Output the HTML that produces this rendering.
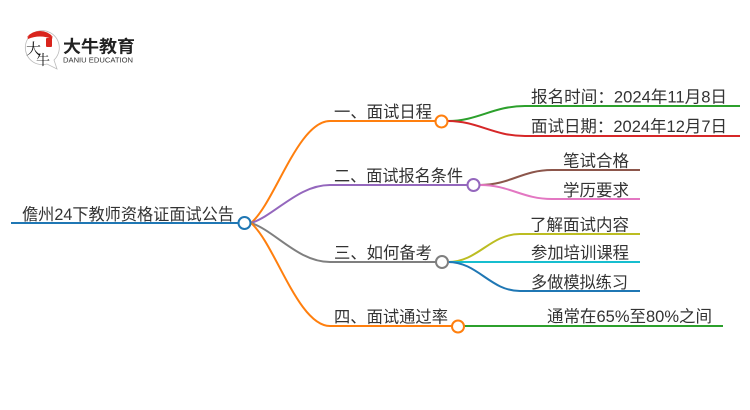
<!DOCTYPE html>
<html>
<head>
<meta charset="utf-8">
<style>
html,body{margin:0;padding:0;background:#fff;}
svg{display:block;}
text{font-family:"Liberation Sans","Noto Sans CJK SC",sans-serif;fill:#333;}
</style>
</head>
<body>
<svg width="750" height="410" viewBox="0 0 750 410" xmlns="http://www.w3.org/2000/svg">
  <!-- logo -->
  <g>
    <path d="M54,60 A17,17 0 1 0 47,64 L57,69 Z" fill="#fff" stroke="#bbb" stroke-width="0.8"/>
    <path d="M27,37 A17,17 0 0 1 53,37 Q40,33 27,37 Z" fill="#d9251d"/>
    <path d="M27.5,37.5 A17,17 0 0 1 52.5,37.5 L52,39 Q40,34 28,39 Z" fill="#d9251d"/>
    <rect x="46" y="38" width="6" height="9" fill="#d9251d" rx="1"/>
    <text x="26" y="54" style="font-family:'Noto Serif CJK SC',serif;font-size:15px;fill:#111;">大</text>
    <text x="36" y="65" style="font-family:'Noto Serif CJK SC',serif;font-size:14px;fill:#111;">牛</text>
    <text x="63" y="52.5" textLength="72" lengthAdjust="spacingAndGlyphs" style="font-size:17px;font-weight:bold;fill:#222;">大牛教育</text>
    <text x="63" y="62.5" textLength="70" lengthAdjust="spacingAndGlyphs" style="font-size:7px;fill:#333;">DANIU EDUCATION</text>
  </g>

  <g fill="none" stroke-width="2">
    <!-- root -->
    <path d="M11,223 H238" stroke="#1f77b4"/>
    <!-- main branches -->
    <path d="M251,223 C275,202.6 298,121 330,121 H435.5" stroke="#ff7f0e"/>
    <path d="M251,223 C275,215.4 298,185 330,185 H467" stroke="#9467bd"/>
    <path d="M251,223 C275,230.8 298,262 330,262 H435.5" stroke="#7f7f7f"/>
    <path d="M251,223 C275,243.6 298,326 330,326 H451.5" stroke="#ff7f0e"/>
    <!-- sub branches -->
    <path d="M448,121 C478,121 493,106 525,106 H740" stroke="#2ca02c"/>
    <path d="M448,121 C478,121 493,136 525,136 H740" stroke="#d62728"/>
    <path d="M480,185 C510,185 522,170 552,170 H640" stroke="#8c564b"/>
    <path d="M480,185 C510,185 522,199 552,199 H640" stroke="#e377c2"/>
    <path d="M448,262 C478,262 490,234 520,234 H640" stroke="#bcbd22"/>
    <path d="M448,262 H640" stroke="#17becf"/>
    <path d="M448,262 C478,262 490,291 520,291 H640" stroke="#1f77b4"/>
    <path d="M464,326 H723" stroke="#2ca02c"/>
    <!-- circles -->
    <circle cx="244.5" cy="223" r="6" fill="#fff" stroke="#1f77b4"/>
    <circle cx="441.5" cy="121.5" r="6" fill="#fff" stroke="#ff7f0e"/>
    <circle cx="473.5" cy="185" r="6" fill="#fff" stroke="#9467bd"/>
    <circle cx="442" cy="262" r="6" fill="#fff" stroke="#7f7f7f"/>
    <circle cx="458" cy="326.5" r="6" fill="#fff" stroke="#ff7f0e"/>
  </g>

  <g style="font-size:16.5px;">
    <text x="22" y="220" textLength="212" lengthAdjust="spacingAndGlyphs">儋州24下教师资格证面试公告</text>
    <text x="334" y="117.5" textLength="98" lengthAdjust="spacingAndGlyphs">一、面试日程</text>
    <text x="334" y="181.5" textLength="129" lengthAdjust="spacingAndGlyphs">二、面试报名条件</text>
    <text x="334" y="258.5" textLength="98" lengthAdjust="spacingAndGlyphs">三、如何备考</text>
    <text x="334" y="322.5" textLength="114" lengthAdjust="spacingAndGlyphs">四、面试通过率</text>
    <text x="531" y="102.5" textLength="196" lengthAdjust="spacingAndGlyphs">报名时间：2024年11月8日</text>
    <text x="531" y="132" textLength="196" lengthAdjust="spacingAndGlyphs">面试日期：2024年12月7日</text>
    <text x="563" y="166.5" textLength="66" lengthAdjust="spacingAndGlyphs">笔试合格</text>
    <text x="563" y="196" textLength="66" lengthAdjust="spacingAndGlyphs">学历要求</text>
    <text x="530" y="230.5" textLength="99" lengthAdjust="spacingAndGlyphs">了解面试内容</text>
    <text x="531" y="258.5" textLength="98" lengthAdjust="spacingAndGlyphs">参加培训课程</text>
    <text x="531" y="288" textLength="97" lengthAdjust="spacingAndGlyphs">多做模拟练习</text>
    <text x="547" y="322" textLength="165" lengthAdjust="spacingAndGlyphs">通常在65%至80%之间</text>
  </g>
</svg>
</body>
</html>
